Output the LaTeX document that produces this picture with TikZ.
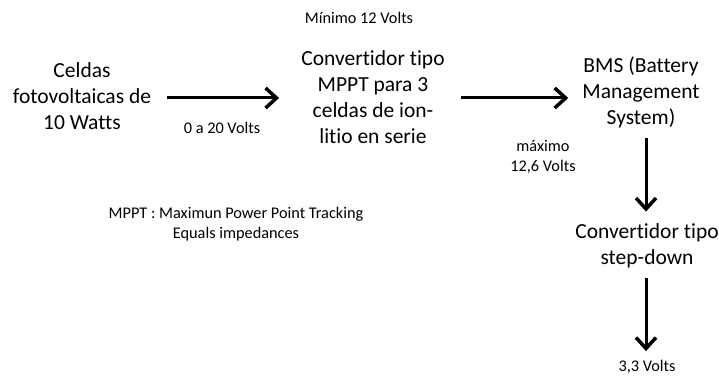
\documentclass[tikz,border=0pt]{standalone}
\usepackage{fontspec}
\setmainfont{Carlito}[Ligatures=NoCommon]
\usetikzlibrary{arrows.meta}

\tikzset{
	bloque/.style={align=center, inner sep=2pt, font=\fontsize{21.5}{26}\selectfont},
	etiqueta/.style={align=center, inner sep=1pt, font=\fontsize{16.3}{19.5}\selectfont},
	flecha/.style={-{Straight Barb[length=11pt,width=20pt,line width=3.5pt]}, line width=3pt, shorten <=15pt, shorten >=15pt}
}

\begin{document}
\begin{tikzpicture}[x=1pt, y=-1pt]
		
		\useasboundingbox (0,0) rectangle (719,382);
		
		% bloques
		\node[bloque] (celdas) at (82,96) {Celdas\\fotovoltaicas de\\10 Watts};
		\node[bloque] (mppt) at (373,97) {Convertidor tipo\\MPPT para 3\\celdas de ion-\\litio en serie};
		\node[bloque] (bms) at (641,92) {BMS (Battery\\Management\\System)};
		\node[bloque] (stepdown) at (647,246) {Convertidor tipo\\step-down};
		\node[etiqueta] (salida) at (647,367) {3,3 Volts};
		
		% etiquetas
		\node[etiqueta] (entrada) at (222,128) {0 a 20 Volts};
		\node[etiqueta] (minimo) at (359,18) {Mínimo 12 Volts};
		\node[etiqueta] (maximo) at (543,157) {máximo\\12,6 Volts};
		\node[etiqueta] (nota) at (236,224) {MPPT : Maximun Power Point Tracking\\Equals impedances};
		
		% flechas
		\draw[flecha, shorten <=14pt, shorten >=20pt] (celdas.east |- 0,98) -- (mppt.west |- 0,98);
		\draw[flecha, shorten <=14pt, shorten >=12pt] (mppt.east |- 0,98) -- (bms.west |- 0,98);
		\draw[flecha, shorten <=8pt, shorten >=10pt] (bms.south -| 646,0) -- (stepdown.north -| 646,0);
		\draw[flecha, shorten <=8pt, shorten >=8pt] (stepdown.south -| 646,0) -- (salida.north -| 646,0);
		
\end{tikzpicture}
\end{document}
